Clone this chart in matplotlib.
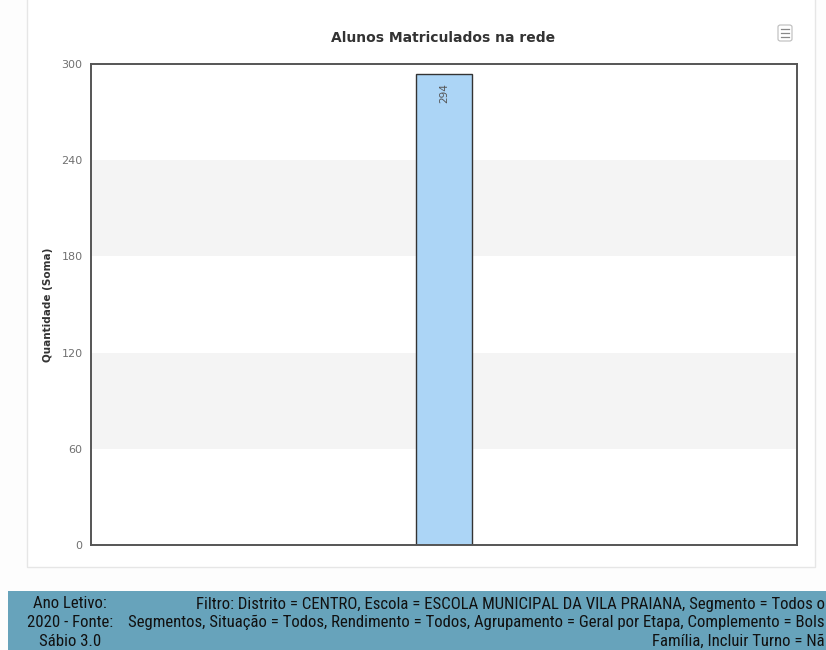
import matplotlib
matplotlib.use("Agg")
import matplotlib.pyplot as plt
from matplotlib.patches import Rectangle, FancyBboxPatch
from matplotlib import font_manager

categories = [""]
values = [294]
yticks = [0, 60, 120, 180, 240, 300]
title = "Alunos Matriculados na rede"
ylabel = "Quantidade (Soma)"
left_lines = ["Ano Letivo:", "2020 - Fonte:", "Sábio 3.0"]
right_lines = [
    "Filtro: Distrito = CENTRO, Escola = ESCOLA MUNICIPAL DA VILA PRAIANA, Segmento = Todos o",
    "Segmentos, Situação = Todos, Rendimento = Todos, Agrupamento = Geral por Etapa, Complemento = Bols",
    "Família, Incluir Turno = Nã",
]

W, H = 826, 650
fig = plt.figure(figsize=(W / 100, H / 100), dpi=100)
fig.patch.set_facecolor("#fdfdfd")

def fx(px):
    return px / W

def fy(py):
    return 1 - py / H

# card
card = Rectangle((fx(27), fy(567)), fx(815) - fx(27), fy(-5) - fy(567),
                 transform=fig.transFigure, facecolor="white",
                 edgecolor="#e6e6e6", linewidth=1, zorder=-5)
fig.patches.append(card)

# banner
banner = Rectangle((fx(8), 0), 1 - fx(8), fy(591), transform=fig.transFigure,
                   facecolor="#67a3bb", edgecolor="none", zorder=-5)
fig.patches.append(banner)

ax = fig.add_axes([fx(91), fy(545), fx(797) - fx(91), fy(64) - fy(545)])
ax.set_zorder(1)
ax.set_xlim(-0.5, 0.5)
ax.set_ylim(0, 300)
for lo, hi in [(60, 120), (180, 240)]:
    ax.axhspan(lo, hi, color="#f4f4f4", zorder=0, linewidth=0)
x = list(range(len(categories)))
bars = ax.bar(x, values, width=0.078, color="#acd5f6", edgecolor="#333333",
              linewidth=1.0, zorder=2)
for b, v in zip(bars, values):
    ax.text(b.get_x() + b.get_width() / 2, v - 6, str(v), rotation=90,
            ha="center", va="top", fontsize=7.5, color="#555555", zorder=3)
ax.set_yticks(yticks)
ax.set_yticklabels([str(t) for t in yticks], fontsize=8, color="#707070")
ax.tick_params(axis="y", length=0, pad=6)
ax.set_xticks([])
for s in ax.spines.values():
    s.set_color("#555555")
    s.set_linewidth(1.4)
ax.set_facecolor("white")
ax.set_ylabel(ylabel, fontsize=7.5, fontweight="bold", color="#333333", labelpad=6)

fig.text(fx(443), fy(38), title, ha="center", va="center", fontsize=10,
         fontweight="bold", color="#333333")

# menu icon
icon = FancyBboxPatch((fx(778), fy(41)), fx(14), 16 / H,
                      boxstyle="round,pad=0,rounding_size=0.003",
                      transform=fig.transFigure, facecolor="white",
                      edgecolor="#bbbbbb", linewidth=0.8)
fig.patches.append(icon)
for yy in [29, 33, 37]:
    fig.add_artist(plt.Line2D([fx(781), fx(789)], [fy(yy), fy(yy)],
                              transform=fig.transFigure, color="#888888", linewidth=0.9))

names = {f.name for f in font_manager.fontManager.ttflist}
bfont = None
for cand in ["Roboto Condensed", "Liberation Sans Narrow", "Open Sans Condensed", "Lato", "Liberation Sans"]:
    if cand in names:
        bfont = [cand, "DejaVu Sans"]
        break
if bfont is None:
    bfont = ["DejaVu Sans"]

rows = [604, 622.5, 641]
renderer = fig.canvas.get_renderer()
# size the banner text so that the first filter line spans ~630 px
probe = fig.text(0, 0, right_lines[0], fontsize=10, family=bfont)
wpx = probe.get_window_extent(renderer).width
probe.remove()
fs = 10 * 630 / wpx
for yy, t in zip(rows, left_lines):
    fig.text(fx(70), fy(yy), t, ha="center", va="center", fontsize=fs,
             color="#111111", family=bfont)
for yy, t in zip(rows, right_lines):
    fig.text(fx(825), fy(yy), t, ha="right", va="center", fontsize=fs,
             color="#111111", family=bfont)

fig.savefig("out.png", dpi=100, facecolor=fig.get_facecolor())
